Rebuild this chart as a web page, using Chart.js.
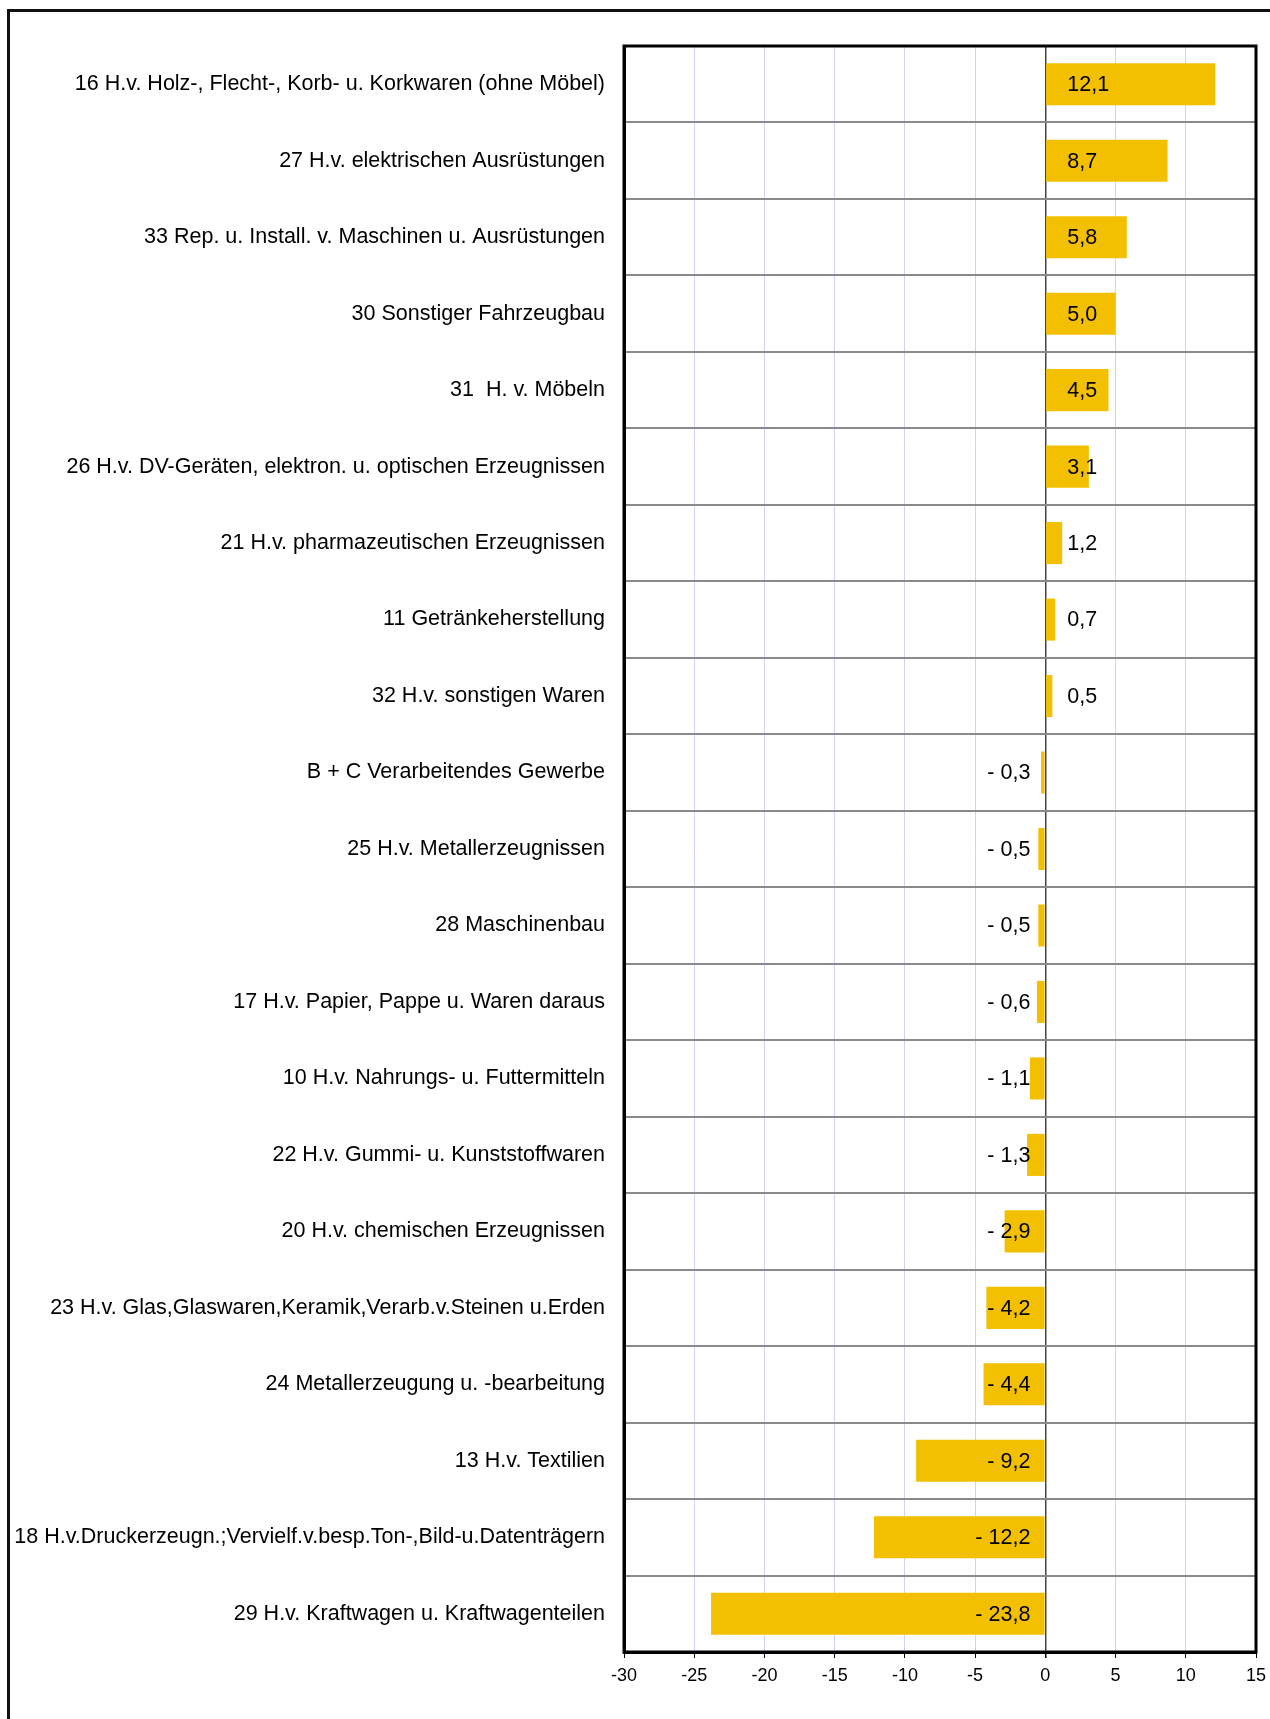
<!DOCTYPE html>
<html>
<head>
<meta charset="utf-8">
<script src="https://cdn.jsdelivr.net/npm/chart.js@4/dist/chart.umd.min.js"></script>
<style>
  body { margin: 0; background: #fff; overflow: hidden; }
  #frame { position: absolute; left: 7px; top: 9px; width: 1400px; height: 1800px; border: 3px solid #111; }
  #c { position: absolute; left: 0; top: 0; }
</style>
</head>
<body>
<div id="frame"></div>
<canvas id="c" width="1270" height="1719"></canvas>
<script>
// Wirtschaftszweige (oben nach unten)
var branchen = [
    "16 H.v. Holz-, Flecht-, Korb- u. Korkwaren (ohne Möbel)",
    "27 H.v. elektrischen Ausrüstungen",
    "33 Rep. u. Install. v. Maschinen u. Ausrüstungen",
    "30 Sonstiger Fahrzeugbau",
    "31  H. v. Möbeln",
    "26 H.v. DV-Geräten, elektron. u. optischen Erzeugnissen",
    "21 H.v. pharmazeutischen Erzeugnissen",
    "11 Getränkeherstellung",
    "32 H.v. sonstigen Waren",
    "B + C Verarbeitendes Gewerbe",
    "25 H.v. Metallerzeugnissen",
    "28 Maschinenbau",
    "17 H.v. Papier, Pappe u. Waren daraus",
    "10 H.v. Nahrungs- u. Futtermitteln",
    "22 H.v. Gummi- u. Kunststoffwaren",
    "20 H.v. chemischen Erzeugnissen",
    "23 H.v. Glas,Glaswaren,Keramik,Verarb.v.Steinen u.Erden",
    "24 Metallerzeugung u. -bearbeitung",
    "13 H.v. Textilien",
    "18 H.v.Druckerzeugn.;Vervielf.v.besp.Ton-,Bild-u.Datenträgern",
    "29 H.v. Kraftwagen u. Kraftwagenteilen"
];
var werte = [12.1, 8.7, 5.8, 5.0, 4.5, 3.1, 1.2, 0.7, 0.5, -0.3, -0.5, -0.5, -0.6,
    -1.1, -1.3, -2.9, -4.2, -4.4, -9.2, -12.2, -23.8];
var xMin = -30, xMax = 15, xStep = 5;

function fmt(v) {
    var s = Math.abs(v).toFixed(1).replace(".", ",");
    return v < 0 ? "- " + s : s;
}

// Werte an die Balken schreiben
var wertLabels = {
    id: "wertLabels",
    afterDatasetsDraw: function (chart) {
        var ctx = chart.ctx;
        var x0 = chart.scales.x.getPixelForValue(0);
        var meta = chart.getDatasetMeta(0);
        ctx.save();
        ctx.font = "21.5px 'Liberation Sans', Arial, sans-serif";
        ctx.fillStyle = "#000";
        ctx.textBaseline = "middle";
        meta.data.forEach(function (bar, i) {
            var v = werte[i];
            if (v >= 0) {
                ctx.textAlign = "left";
                ctx.fillText(fmt(v), x0 + 22, bar.y + 1);
            } else {
                ctx.textAlign = "right";
                ctx.fillText(fmt(v), x0 - 15, bar.y + 1);
            }
        });
        ctx.restore();
    }
};

// Rahmen um die Zeichenfläche
var rahmen = {
    id: "rahmen",
    afterDraw: function (chart) {
        var a = chart.chartArea;
        var ctx = chart.ctx;
        ctx.save();
        ctx.strokeStyle = "#000";
        ctx.lineWidth = 3;
        ctx.strokeRect(a.left, a.top, a.right - a.left, a.bottom - a.top);
        ctx.restore();
    }
};

new Chart("c", {
    type: "bar",
    data: {
        labels: branchen,
        datasets: [{
            data: werte,
            backgroundColor: "#f2c000",
            borderWidth: 0,
            barPercentage: 0.55,
            categoryPercentage: 1
        }]
    },
    plugins: [wertLabels, rahmen],
    options: {
        indexAxis: "y",
        responsive: false,
        animation: false,
        layout: { padding: { top: 46, right: 14, left: 0, bottom: 0 } },
        plugins: {
            legend: { display: false },
            tooltip: { enabled: false }
        },
        scales: {
            x: {
                min: xMin,
                max: xMax,
                ticks: {
                    stepSize: xStep,
                    color: "#000",
                    padding: 7,
                    font: { family: "'Liberation Sans', Arial, sans-serif", size: 18 }
                },
                grid: {
                    color: function (c) { return c.tick && c.tick.value === 0 ? "#444" : "#d0d0f8"; },
                    lineWidth: function (c) { return c.tick && c.tick.value === 0 ? 1.5 : 1; },
                    tickColor: "#000",
                    tickLength: 6
                },
                border: { color: "#000", width: 3 },
                afterFit: function (scale) {
                    scale.height = 67;
                    scale.paddingLeft = 0;
                    scale.paddingRight = 0;
                }
            },
            y: {
                ticks: {
                    color: "#000",
                    padding: 19,
                    autoSkip: false,
                    font: { family: "'Liberation Sans', Arial, sans-serif", size: 21.5 }
                },
                grid: {
                    color: "#8a8a8a",
                    lineWidth: 2,
                    drawTicks: false
                },
                border: { color: "#000", width: 3 },
                afterFit: function (scale) { scale.width = 624; }
            }
        }
    }
});
</script>
</body>
</html>
